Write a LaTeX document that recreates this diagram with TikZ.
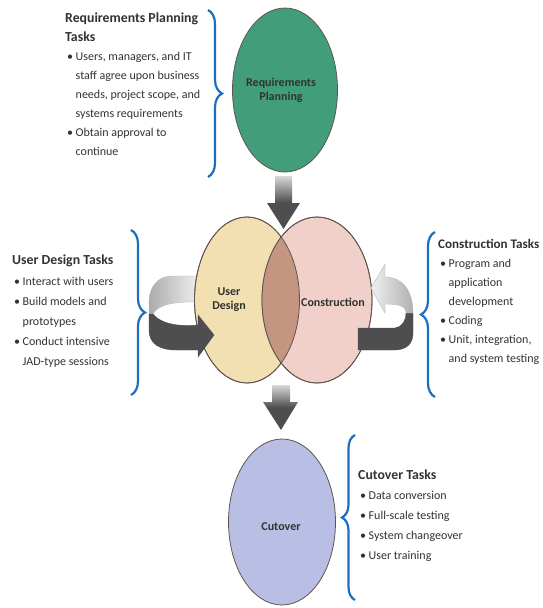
\documentclass[tikz,border=0pt]{standalone}
\usepackage{fontspec}
\setmainfont{Carlito}
\usetikzlibrary{shapes.geometric,decorations.pathreplacing}
\definecolor{reqgreen}{RGB}{66,158,122}
\definecolor{udbeige}{RGB}{242,223,178}
\definecolor{conpink}{RGB}{240,208,200}
\definecolor{lensbrown}{RGB}{196,150,130}
\definecolor{cutblue}{RGB}{184,190,228}
\definecolor{edgec}{RGB}{95,85,78}
\definecolor{bracec}{RGB}{30,110,190}
\definecolor{txt}{RGB}{50,50,50}
\definecolor{darkarrow}{RGB}{78,78,80}
\newcommand{\tbul}{\hspace*{2pt}\makebox[8.5pt][l]{\textbullet}}
\newcommand{\tind}{\hspace*{10.5pt}}
\newcommand{\ttl}[1]{{\fontsize{13.8}{19}\selectfont\bfseries #1}}
\begin{document}
\begin{tikzpicture}[x=1pt,y=-1pt,
  phase/.style={ellipse, draw=edgec, line width=0.8pt, inner sep=0pt},
  phaselabel/.style={font=\bfseries\fontsize{12}{14}\selectfont, text=txt, align=center, inner sep=0pt},
  taskbox/.style={anchor=north west, inner sep=0pt, align=left, text=txt},
  bracestyle/.style={draw=bracec, line width=2.2pt, decorate, decoration={brace, amplitude=14pt}},
  blockarrow/.style={draw=none, top color=gray!30, bottom color=darkarrow, middle color=darkarrow},
  darkband/.style={fill=darkarrow, draw=gray!60!black, line width=0.4pt},
]
\useasboundingbox (0,0) rectangle (543,608);

% braces
\coordinate (rbT) at (208,10);   \coordinate (rbB) at (208,177);
\coordinate (ubT) at (131,230);  \coordinate (ubB) at (131,395);
\coordinate (cbT) at (435,232);  \coordinate (cbB) at (435,397);
\coordinate (xbT) at (355,435);  \coordinate (xbB) at (355,600);
\draw[bracestyle] (rbT) -- (rbB);
\draw[bracestyle] (ubT) -- (ubB);
\draw[bracestyle] (cbB) -- (cbT);
\draw[bracestyle, decoration={brace, amplitude=13pt}] (xbB) -- (xbT);

% task texts
\node[taskbox, font=\fontsize{12}{19}\selectfont] (rtasks) at (65,13)
  {\ttl{Requirements Planning}\\\ttl{Tasks}\\
   \tbul Users, managers, and IT\\\tind staff agree upon business\\
   \tind needs, project scope, and\\\tind systems requirements\\
   \tbul Obtain approval to\\\tind continue};
\node[taskbox, font=\fontsize{12}{20.2}\selectfont] (utasks) at (12,255)
  {\ttl{User Design Tasks}\\\tbul Interact with users\\
   \tbul Build models and\\\tind prototypes\\
   \tbul Conduct intensive\\\tind JAD-type sessions};
\node[taskbox, font=\fontsize{12}{19}\selectfont] (ctasks) at (438,239)
  {{\fontsize{13.1}{19}\selectfont\bfseries Construction Tasks}\\\tbul Program and\\\tind application\\
   \tind development\\\tbul Coding\\\tbul Unit, integration,\\
   \tind and system testing};
\node[taskbox, font=\fontsize{12}{20}\selectfont] (xtasks) at (358,470)
  {\ttl{Cutover Tasks}\\\tbul Data conversion\\\tbul Full-scale testing\\
   \tbul System changeover\\\tbul User training};

% left loop, back part
\path[left color=gray!65, right color=gray!8, draw=gray!55, line width=0.4pt]
  (203,276) -- (172,276) .. controls (157,276) and (149,288) .. (149,302)
  -- (149,314) -- (153,314) .. controls (158,305) and (172,301) .. (203,302) -- cycle;

% phases
\node[phase, fill=reqgreen, minimum width=105pt, minimum height=164pt] (req) at (285,90) {};
\node[phase, fill=udbeige, minimum width=105pt, minimum height=166pt] (ud) at (247,300) {};
\node[phase, fill=conpink, minimum width=110pt, minimum height=166pt] (con) at (317,300) {};
\node[phase, fill=cutblue, minimum width=107pt, minimum height=166pt] (cut) at (282,522) {};
\begin{scope}
  \clip (ud.center) ellipse [x radius=52.5, y radius=83];
  \fill[lensbrown] (con.center) ellipse [x radius=55, y radius=83];
\end{scope}
\draw[edgec, line width=0.8pt] (ud.center) ellipse [x radius=52.5, y radius=83];
\draw[edgec, line width=0.8pt] (con.center) ellipse [x radius=55, y radius=83];

% labels
\node[phaselabel] (reqlab) at (281,90) {Requirements\\Planning};
\node[phaselabel] (udlab) at (229,300) {User\\Design};
\node[phaselabel] (conlab) at (333,302) {Construction};
\node[phaselabel] (cutlab) at (281,527) {Cutover};

% down arrows
\path[blockarrow] (275,176) -- (292,176) -- (292,203) -- (300,203) -- (283.5,229)
  -- (267,203) -- (275,203) -- cycle;
\path[blockarrow] (272,385) -- (290,385) -- (290,402) -- (298,402) -- (281,430)
  -- (263,402) -- (272,402) -- cycle;

% right loop
\path[darkband] (358,328) -- (395,328) .. controls (402,327) and (406,321) .. (406,313)
  -- (413,313) -- (413,333) .. controls (413,345) and (405,350) .. (394,350) -- (358,350) -- cycle;
\path[left color=gray!12, right color=gray!62, draw=gray!55, line width=0.4pt]
  (371,288) -- (385,264) -- (385,277) .. controls (402,277) and (413,290) .. (413,313)
  -- (406,313) .. controls (406,306) and (399,304) .. (385,304) -- (385,313) -- cycle;

% left loop, front part
\path[darkband] (149,314) -- (149,330) .. controls (149,344) and (160,350) .. (176,350)
  -- (198,350) -- (198,357) -- (214,335) -- (198,315) -- (198,325)
  .. controls (176,327) and (160,323) .. (153,314) -- cycle;
\end{tikzpicture}
\end{document}
